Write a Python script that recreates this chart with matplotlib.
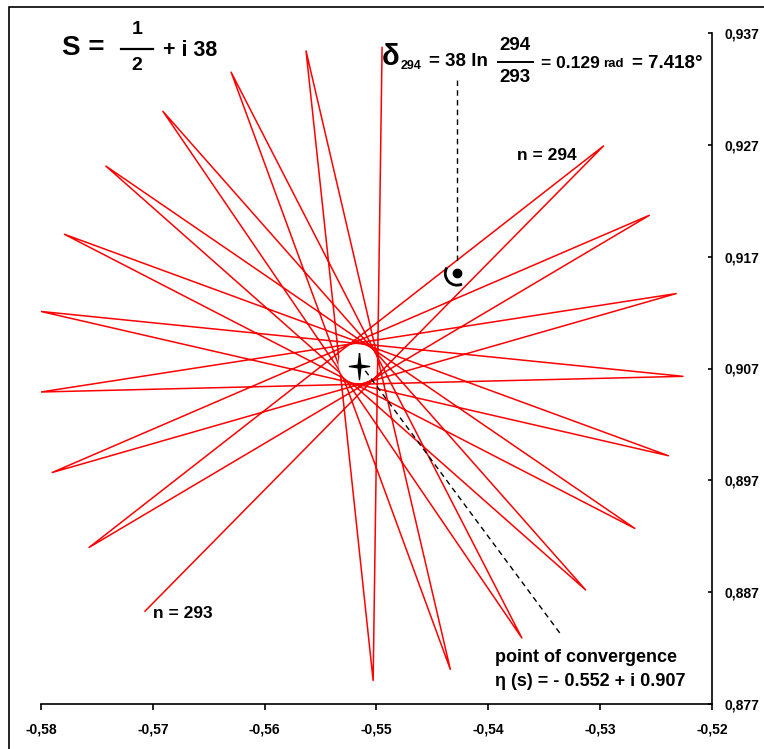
import numpy as np
import matplotlib
matplotlib.use("Agg")
import matplotlib.pyplot as plt
from matplotlib.patches import Circle, Arc, Rectangle
from matplotlib.path import Path
from matplotlib.lines import Line2D

plt.rcParams["font.family"] = ["Liberation Sans", "DejaVu Sans"]
plt.rcParams["font.weight"] = "bold"

# partial sums of eta(s), n = 293 ... 313
n_values = list(range(293, 314))
re_sums = [-0.5707, -0.5297, -0.5757, -0.5256, -0.5790, -0.5232, -0.5800,
           -0.5226, -0.5800, -0.5239, -0.5779, -0.5269, -0.5742, -0.5313,
           -0.5691, -0.5370, -0.5630, -0.5434, -0.5563, -0.5503, -0.5495]
im_sums = [0.8853, 0.9269, 0.8910, 0.9207, 0.8977, 0.9137, 0.9049,
           0.9063, 0.9121, 0.8992, 0.9190, 0.8927, 0.9251, 0.8872,
           0.9300, 0.8829, 0.9335, 0.8801, 0.9354, 0.8791, 0.9357]

# limit point
eta_re = -0.5516
eta_im = 0.9072

# angle marker near n = 294
angle_re = -0.5428
angle_im = 0.9155
pointer_top = 0.9328
conv_pointer_end = (-0.5335, 0.8832)

x_ticks = [-0.58, -0.57, -0.56, -0.55, -0.54, -0.53, -0.52]
x_tick_labels = ["-0,58", "-0,57", "-0,56", "-0,55", "-0,54", "-0,53", "-0,52"]
y_ticks = [0.877, 0.887, 0.897, 0.907, 0.917, 0.927, 0.937]
y_tick_labels = ["0,877", "0,887", "0,897", "0,907", "0,917", "0,927", "0,937"]

W, H = 764, 749
fig = plt.figure(figsize=(W / 100, H / 100), dpi=100)
ax = fig.add_axes([41 / W, 45 / H, 671 / W, 671 / H])


def px(x, y):
    return x / W, 1 - y / H


# star polygon of partial sums
ax.plot(re_sums, im_sums, color="red", lw=1.1, zorder=2)

# white disc around the limit
ax.add_patch(Circle((eta_re - 0.0001, eta_im + 0.0002), 0.0017,
                    facecolor="white", edgecolor="none", zorder=3))

# four-pointed star at the limit
star = Path([(0, 1.3), (0.13, 0.13), (1, 0), (0.13, -0.13), (0, -1.3),
             (-0.13, -0.13), (-1, 0), (-0.13, 0.13), (0, 1.3)])
ax.plot([eta_re], [eta_im], marker=star, markersize=19, color="black",
        linestyle="none", zorder=5)

# pointer to the limit
ax.plot([eta_re + 0.0006, conv_pointer_end[0]],
        [eta_im - 0.0004, conv_pointer_end[1]],
        color="black", lw=1.0, linestyle=(0, (4, 3)), zorder=4)

# angle mark
ax.plot([angle_re, angle_re], [pointer_top, angle_im + 0.0010],
        color="black", lw=1.0, linestyle=(0, (4, 3)), zorder=4)
ax.plot([angle_re], [angle_im], marker="o", markersize=6, color="black",
        zorder=5)
ax.add_patch(Arc((angle_re, angle_im), 0.0021, 0.0021, theta1=150,
                 theta2=295, color="black", lw=2.0, zorder=5))

ax.set_xlim(-0.58, -0.52)
ax.set_ylim(0.877, 0.937)

ax.spines["left"].set_visible(False)
ax.spines["top"].set_visible(False)
ax.spines["bottom"].set_linewidth(1.2)
ax.spines["right"].set_linewidth(1.2)
ax.yaxis.tick_right()
ax.set_xticks(x_ticks)
ax.set_xticklabels(x_tick_labels, fontsize=10, fontweight="bold")
ax.set_yticks(y_ticks)
ax.set_yticklabels(y_tick_labels, fontsize=10, fontweight="bold")
ax.tick_params(axis="x", direction="out", length=4.5, width=1.2, pad=8.5)
ax.tick_params(axis="y", direction="in", length=3, width=1.2, pad=9)

# title formula  S = 1/2 + i 38
fig.text(*px(62, 48), "S =", fontsize=20, ha="left", va="center")
fig.text(*px(137, 30), "1", fontsize=14, ha="center", va="center")
fig.add_artist(Line2D([121 / W, 153 / W], [1 - 49 / H, 1 - 49 / H],
                      color="black", lw=1.6))
fig.text(*px(137, 66), "2", fontsize=14, ha="center", va="center")
fig.text(*px(163, 51), "+ i 38", fontsize=15.5, ha="left", va="center")

# rotation angle formula
fig.text(*px(382, 57), "\u03b4", fontsize=21, ha="left", va="center")
fig.text(*px(401, 66), "294", fontsize=9, ha="left", va="center")
fig.text(*px(429, 62), "= 38 ln", fontsize=13.5, ha="left", va="center")
fig.text(*px(515, 45), "294", fontsize=13.5, ha="center", va="center")
fig.add_artist(Line2D([498 / W, 533 / W], [1 - 62 / H, 1 - 62 / H],
                      color="black", lw=1.4))
fig.text(*px(515, 78), "293", fontsize=13.5, ha="center", va="center")
fig.text(*px(541, 63), "= 0.129", fontsize=12.5, ha="left", va="center")
fig.text(*px(603, 64), "rad", fontsize=9.5, ha="left", va="center")
fig.text(*px(702, 63), "= 7.418\u00b0", fontsize=13.5, ha="right", va="center")

fig.text(*px(517, 155), "n = 294", fontsize=12.5, ha="left", va="center")
fig.text(*px(153, 613), "n = 293", fontsize=12.5, ha="left", va="center")
fig.text(*px(495, 657), "point of convergence", fontsize=13, ha="left",
         va="center")
fig.text(*px(495, 682), "\u03b7 (s) = - 0.552 + i 0.907", fontsize=13,
         ha="left", va="center")

# outer frame
fig.add_artist(Rectangle((9 / W, -0.5), 1.0, 1.5 - 7 / H, fill=False,
                         lw=1.2, edgecolor="black", transform=fig.transFigure))

fig.savefig("out.png", dpi=100)
